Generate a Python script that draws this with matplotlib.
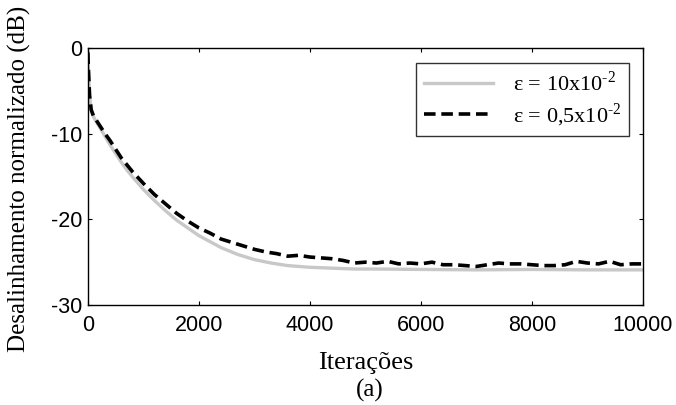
import numpy as np
import matplotlib
matplotlib.use("Agg")
import matplotlib.pyplot as plt

plt.rcParams['font.family'] = ['Liberation Serif', 'DejaVu Serif']
plt.rcParams['mathtext.fontset'] = 'custom'
plt.rcParams['mathtext.rm'] = 'Liberation Serif'
plt.rcParams['axes.unicode_minus'] = False

# curve for eps = 10x10^-2 (grey, solid)
it_g = [0, 10, 30, 60, 100, 150, 200, 300, 400, 500, 600, 700, 800, 1000, 1200,
        1400, 1600, 1800, 2000, 2200, 2400, 2700, 3000, 3300, 3600, 4000, 4400,
        4800, 5200, 6000, 7000, 8000, 9000, 10000]
db_g = [-0.5, -2.5, -5.5, -7.2, -8.0, -8.6, -9.1, -10.2, -11.3, -12.3, -13.3,
        -14.2, -15.0, -16.5, -17.8, -19.0, -20.1, -21.0, -21.9, -22.6, -23.3,
        -24.1, -24.7, -25.1, -25.4, -25.6, -25.7, -25.8, -25.8, -25.85, -25.9,
        -25.85, -25.9, -25.9]

# curve for eps = 0,5x10^-2 (black, dashed)
it_b = [0, 10, 30, 60, 100, 150, 200, 300, 400, 500, 600, 700, 800, 1000, 1200,
        1400, 1600, 1800, 2000, 2200, 2400, 2600, 2800, 3000, 3200, 3400, 3600,
        3800, 4000, 4200, 4400, 4600, 4800, 5000, 5200, 5400, 5600, 5800, 6000,
        6200, 6400, 6600, 6800, 7000, 7200, 7400, 7600, 7800, 8000, 8200, 8400,
        8600, 8800, 9000, 9200, 9400, 9600, 9800, 10000]
db_b = [-0.5, -2.5, -5.5, -7.2, -7.9, -8.4, -8.9, -9.9, -10.8, -11.8, -12.8,
        -13.6, -14.4, -15.8, -17.1, -18.2, -19.3, -20.2, -21.0, -21.6, -22.3,
        -22.7, -23.1, -23.5, -23.8, -24.0, -24.3, -24.2, -24.4, -24.5, -24.6,
        -24.8, -25.1, -25.0, -25.1, -24.9, -25.2, -25.1, -25.2, -25.0, -25.3,
        -25.3, -25.4, -25.5, -25.3, -25.1, -25.2, -25.2, -25.3, -25.4, -25.4,
        -25.3, -24.9, -25.1, -25.2, -24.9, -25.3, -25.2, -25.2]

xticks = [0, 2000, 4000, 6000, 8000, 10000]
yticks = [0, -10, -20, -30]

fig = plt.figure(figsize=(6.76, 4.05), dpi=100)
ax = fig.add_axes([0.130, 0.247, 0.821, 0.634])

ax.plot(it_g, db_g, color='#c8c8c8', lw=2.4, label=r'ε = 10x10$^{\text{-2}}$')
ax.plot(it_b, db_b, color='black', lw=2.6, ls=(0, (3.2, 1.6)),
        label=r'ε = 0,5x10$^{\text{-2}}$')

ax.set_xlim(0, 10000)
ax.set_ylim(-30, 0)
ax.set_xticks(xticks)
ax.set_yticks(yticks)
ax.tick_params(direction='in', length=3, top=True, right=True, width=0.8)
ax.tick_params(axis='x', pad=7)
ax.tick_params(axis='y', pad=4)
for lab in ax.get_xticklabels() + ax.get_yticklabels():
    lab.set_fontfamily('Liberation Sans')
    lab.set_fontsize(15.5)
for s in ax.spines.values():
    s.set_linewidth(1.0)

ax.set_xlabel('Iterações', fontsize=19)
ax.xaxis.set_label_coords(0.5, -0.185)
ax.set_ylabel('Desalinhamento normalizado (dB)', fontsize=18)
ax.yaxis.set_label_coords(-0.103, 0.49)
fig.text(0.547, 0.02, '(a)', ha='center', fontsize=18)

leg = ax.legend(loc='upper right', bbox_to_anchor=(0.975, 0.942), fontsize=16,
                frameon=True, fancybox=False, handlelength=3.1,
                handletextpad=0.9, borderpad=0.35, labelspacing=0.25,
                borderaxespad=0)
leg.get_frame().set_edgecolor('black')
leg.get_frame().set_linewidth(1.0)

fig.savefig('out.png', dpi=100)
